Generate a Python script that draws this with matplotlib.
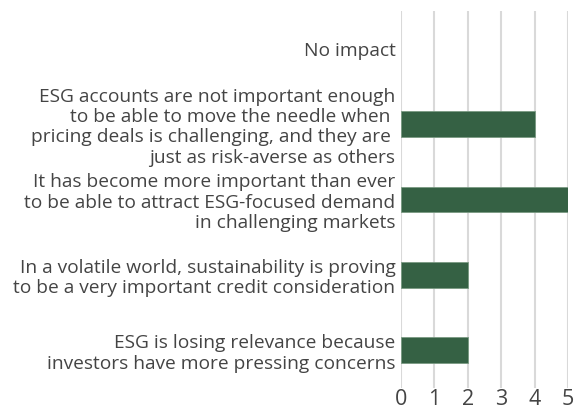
import matplotlib.pyplot as plt

plt.rcParams['font.family'] = ['Open Sans', 'DejaVu Sans']

labels = [
    'No impact',
    'ESG accounts are not important enough\nto be able to move the needle when \npricing deals is challenging, and they are \njust as risk-averse as others',
    'It has become more important than ever\nto be able to attract ESG-focused demand\nin challenging markets',
    'In a volatile world, sustainability is proving\nto be a very important credit consideration',
    'ESG is losing relevance because\ninvestors have more pressing concerns',
]
values = [0, 4, 5, 2, 2]

text_col = '#444444'
bar_col = '#356144'

fig = plt.figure(figsize=(5.77, 4.12), dpi=100)
ax = fig.add_axes([401 / 577, 1 - 388 / 412, 167 / 577, 377 / 412])

ypos = list(range(len(labels)))
edge_w = [0.6 if v > 0 else 0 for v in values]
ax.barh(ypos, values, height=0.34, color=bar_col, edgecolor='#7a9a83', linewidth=edge_w, zorder=3)

ax.set_ylim(len(labels) - 0.5, -0.5)
ax.set_xlim(0, 5)
ax.set_xticks(range(6))
ax.set_yticks(ypos)
ax.set_yticklabels(labels, fontsize=13.8, color=text_col, linespacing=1.16)
ax.tick_params(axis='x', length=0, labelsize=15.5, colors=text_col, pad=1)
ax.tick_params(axis='y', length=0, pad=4)
ax.grid(axis='x', color='#d9d9d9', linewidth=1.5, zorder=0)
for s in ax.spines.values():
    s.set_visible(False)

fig.savefig('out.png', dpi=100)
